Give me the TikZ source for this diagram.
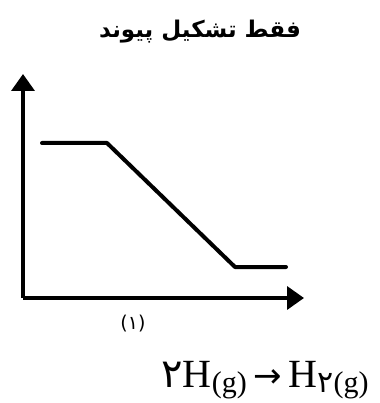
\documentclass[tikz,border=0pt]{standalone}
\usepackage{fontspec}
\setmainfont{Liberation Serif}
\newfontfamily\arabicfont[Script=Arabic]{DejaVu Sans}
\newfontfamily\symfont{DejaVu Sans}
\TeXXeTstate=1
\usetikzlibrary{arrows.meta}
\tikzset{
  axis/.style={line width=3.6pt,-{Triangle[length=17pt,width=23pt]}},
  level/.style={line width=4pt,line cap=round,line join=round},
  title/.style={font=\arabicfont\bfseries\fontsize{23}{26}\selectfont},
}
\begin{document}
\begin{tikzpicture}[x=1pt,y=-1pt]
  \useasboundingbox (0,0) rectangle (379,403);
  % axes
  \coordinate (O) at (23,298);
  \coordinate (ytop) at (23,74);
  \coordinate (xend) at (304,298);
  \draw[axis] (O) -- (ytop);
  \draw[axis] (O) -- (xend);
  % energy profile
  \coordinate (a) at (42,143);
  \coordinate (b) at (107,143);
  \coordinate (c) at (235,267);
  \coordinate (d) at (286,267);
  \draw[level] (a) -- (b) -- (c) -- (d);
  % texts
  \node[title] (head) at (200,32) {\beginR فقط تشکیل پیوند\endR};
  \node[font=\arabicfont\fontsize{19}{22}\selectfont] (lab) at (133,324) {(۱)};
  \node[font=\fontsize{40}{44}\selectfont] (eq) at (265,380)
    {{\arabicfont ۲}H\raisebox{-0.3ex}{\fontsize{30}{32}\selectfont(g)}\,{\symfont\fontsize{34}{36}\selectfont →}\,H\raisebox{-0.3ex}{\fontsize{30}{32}\selectfont{\arabicfont ۲}(g)}};
\end{tikzpicture}
\end{document}
